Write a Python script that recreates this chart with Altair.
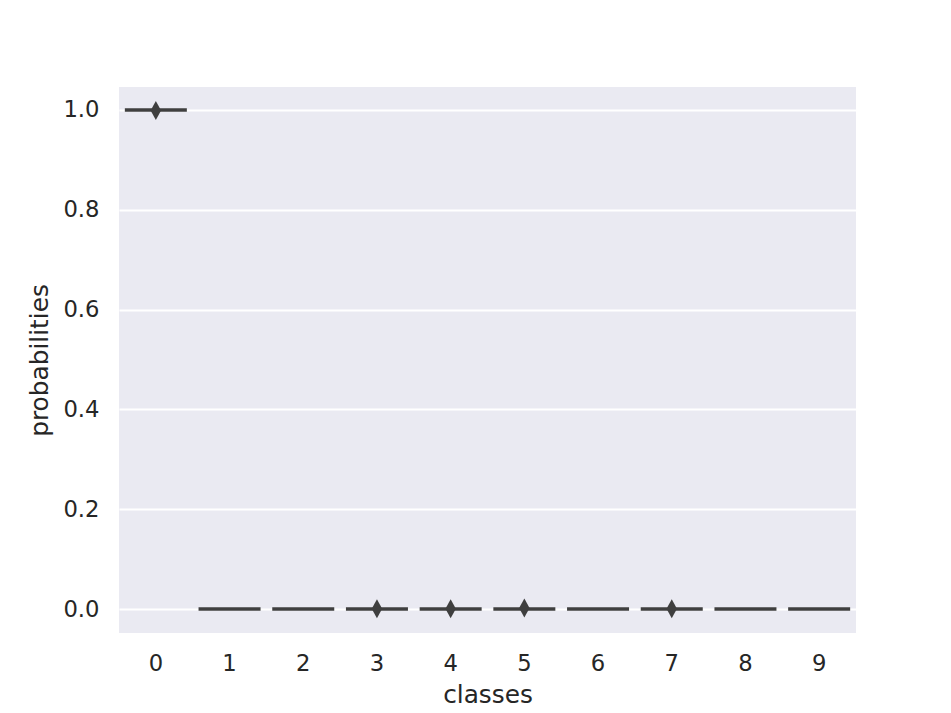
import altair as alt
import pandas as pd

classes = [0, 1, 2, 3, 4, 5, 6, 7, 8, 9]
medians = [1.0, 0.0, 0.0, 0.0, 0.0, 0.0, 0.0, 0.0, 0.0, 0.0]
outlier_classes = [0, 3, 4, 5, 7]
outlier_values = [0.999, 0.0005, 0.0005, 0.002, 0.0005]

box_df = pd.DataFrame({"classes": classes, "probabilities": medians})
out_df = pd.DataFrame({"classes": outlier_classes, "probabilities": outlier_values})

xscale = alt.Scale(domain=classes, paddingInner=0, paddingOuter=0)
yscale = alt.Scale(domain=[-0.048, 1.046], nice=False, zero=False)

xenc = alt.X("classes:O", scale=xscale, title="classes",
             axis=alt.Axis(labelAngle=0, grid=False, ticks=False, domain=False,
                           labelPadding=19, titlePadding=8))
yenc = alt.Y("probabilities:Q", scale=yscale, title="probabilities",
             axis=alt.Axis(values=[0.0, 0.2, 0.4, 0.6, 0.8, 1.0], format=".1f",
                           ticks=False, domain=False, labelPadding=20,
                           titlePadding=10, gridColor="white", gridWidth=1.8))

boxes = alt.Chart(box_df).mark_tick(orient="horizontal", size=62, thickness=3.4,
                                    color="#3f3f3f", opacity=1).encode(x=xenc, y=yenc)

diamond = "M0,-1L0.55,0L0,1L-0.55,0Z"
points = alt.Chart(out_df).mark_point(shape=diamond, size=361, filled=True,
                                      color="#3f3f3f", opacity=1).encode(
    x=alt.X("classes:O", scale=xscale), y=alt.Y("probabilities:Q", scale=yscale))

chart = alt.layer(boxes, points).properties(
    width=737, height=546,
    autosize=alt.AutoSizeParams(type="none"),
    padding={"left": 111, "top": 79, "right": 80, "bottom": 80},
    background="white",
).configure_view(fill="#EAEAF2", stroke=None).configure_axis(
    labelFont="DejaVu Sans", titleFont="DejaVu Sans", labelFontSize=22.7,
    titleFontSize=24.8, titleFontWeight="normal", labelColor="#262626",
    titleColor="#262626")

chart.save("out.html", embed_options={"renderer": "svg", "actions": False})
